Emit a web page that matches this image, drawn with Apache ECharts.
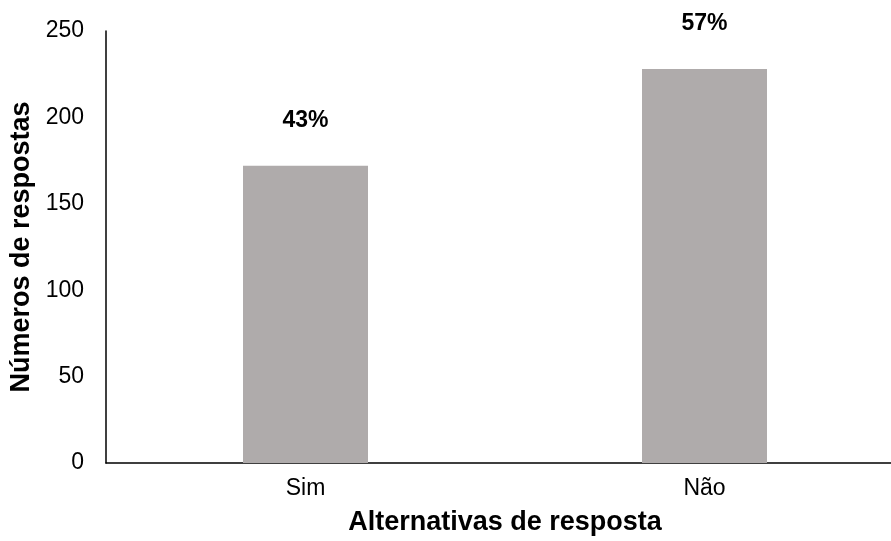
<!DOCTYPE html>
<html>
<head>
<meta charset="utf-8">
<script src="https://cdn.jsdelivr.net/npm/echarts@6/dist/echarts.min.js"></script>
<style>
  html, body { margin: 0; padding: 0; background: #fff; }
  #myCharts { width: 891px; height: 541px; }
</style>
</head>
<body>
<div id="myCharts"></div>
<script>
// dados do gráfico
const categorias = ["Sim", "Não"];
const respostas = [172, 228];
const yTicks = [0, 50, 100, 150, 200, 250];

const total = respostas.reduce((a, b) => a + b, 0);
const fonte = "'Liberation Sans', Arial, sans-serif";

const myCharts = echarts.init(document.getElementById("myCharts"));
let options = {
  animation: false,
  grid: {
    left: 106,
    right: -13, // eixo x passa da borda direita
    top: 31,
    bottom: 78,
    outerBoundsMode: "none"
  },
  xAxis: {
    type: "category",
    data: categorias,
    name: "Alternativas de resposta",
    nameLocation: "middle",
    nameGap: 46,
    nameTextStyle: {
      color: "#000",
      fontSize: 27,
      fontWeight: "bold",
      fontFamily: fonte
    },
    axisLine: {
      lineStyle: { color: "#000", width: 1.5 }
    },
    axisTick: { show: false },
    axisLabel: {
      color: "#000",
      fontSize: 23,
      fontFamily: fonte,
      margin: 14
    }
  },
  yAxis: {
    type: "value",
    min: yTicks[0],
    max: yTicks[yTicks.length - 1],
    interval: 50,
    name: "Números de respostas",
    nameLocation: "middle",
    nameGap: 70,
    nameTextStyle: {
      color: "#000",
      fontSize: 27,
      fontWeight: "bold",
      fontFamily: fonte
    },
    axisLine: {
      show: true,
      lineStyle: { color: "#000", width: 1.5 }
    },
    axisTick: { show: false },
    splitLine: { show: false },
    axisLabel: {
      color: "#000",
      fontSize: 23,
      fontFamily: fonte,
      margin: 22
    }
  },
  series: [
    {
      type: "bar",
      data: respostas,
      barWidth: 125,
      itemStyle: { color: "#AFABAB" },
      label: {
        show: true,
        position: "top",
        distance: 34,
        color: "#000",
        fontSize: 23,
        fontWeight: "bold",
        fontFamily: fonte,
        formatter: function (p) {
          return Math.round(p.value / total * 100) + "%";
        }
      }
    }
  ]
};
myCharts.setOption(options);
</script>
</body>
</html>
